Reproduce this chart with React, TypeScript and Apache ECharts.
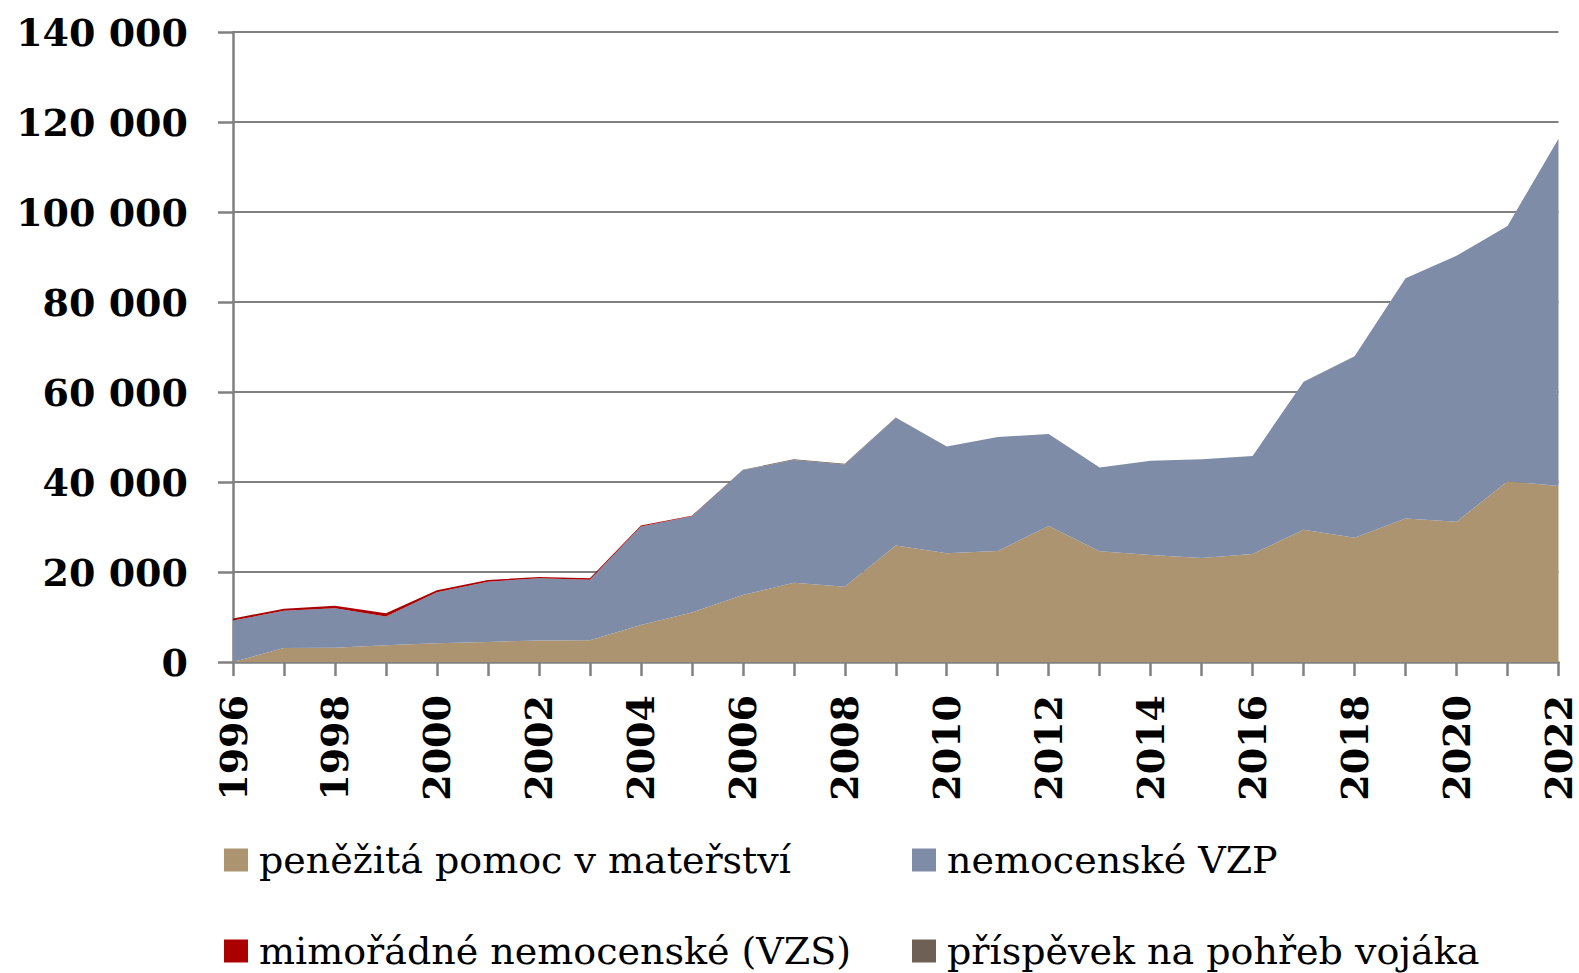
import React, { useEffect, useRef } from "react";
import * as echarts from "echarts";

const years = [
  "1996", "1997", "1998", "1999", "2000", "2001", "2002", "2003", "2004", "2005",
  "2006", "2007", "2008", "2009", "2010", "2011", "2012", "2013", "2014", "2015",
  "2016", "2017", "2018", "2019", "2020", "2021", "2022",
];

const materstvi = [
  0, 3100, 3150, 3700, 4150, 4450, 4800, 4850, 8250, 11000,
  14900, 17600, 16750, 25900, 24150, 24650, 30200, 24600, 23800, 23100,
  24000, 29400, 27600, 31900, 31150, 40150, 39100,
];

const nemocenskeVZP = [
  9200, 8300, 8800, 6400, 11350, 13400, 13800, 13450, 21850, 21400,
  27700, 27300, 27150, 28400, 23750, 25350, 20450, 18650, 20900, 21950,
  21800, 32900, 40350, 53400, 59150, 56750, 77200,
];

const mimoradneVZS = [
  450, 450, 550, 750, 450, 350, 300, 300, 250, 100,
  0, 0, 0, 0, 0, 0, 0, 0, 0, 0,
  0, 0, 0, 0, 0, 0, 0,
];

const pohrebVojaka = [
  0, 0, 0, 0, 0, 0, 0, 0, 0, 0,
  100, 150, 150, 60, 0, 0, 0, 0, 0, 0,
  0, 0, 0, 0, 0, 0, 0,
];

const seriesNames = [
  "peněžitá pomoc v mateřství",
  "nemocenské VZP",
  "mimořádné nemocenské (VZS)",
  "příspěvek na pohřeb vojáka",
];
const seriesColors = ["#AB946F", "#7F8CA8", "#AA0000", "#6F6056"];
const seriesData = [materstvi, nemocenskeVZP, mimoradneVZS, pohrebVojaka];

const FONT = "'DejaVu Serif', serif";

export default function App() {
  const ref = useRef<HTMLDivElement>(null);

  useEffect(() => {
    if (!ref.current) return;
    const chart = echarts.init(ref.current, undefined, { renderer: "svg" });
    const legendPos = [
      { left: 224, top: 841 },
      { left: 912, top: 841 },
      { left: 224, top: 932 },
      { left: 912, top: 932 },
    ];
    chart.setOption({
      animation: false,
      backgroundColor: "#ffffff",
      grid: { left: 233, right: 20.5, top: 32, bottom: 311, containLabel: false },
      legend: seriesNames.map((n, i) => ({
        data: [n],
        left: legendPos[i].left,
        top: legendPos[i].top,
        padding: 0,
        icon: "rect",
        itemWidth: 24,
        itemHeight: 23,
        selectedMode: false,
        textStyle: {
          fontFamily: FONT,
          fontSize: 38,
          color: "#000000",
          padding: [0, 0, 0, 6],
        },
      })),
      xAxis: {
        type: "category",
        data: years,
        boundaryGap: false,
        axisLine: { show: true, lineStyle: { color: "#808080", width: 2.5 } },
        axisTick: { show: true, interval: 0, length: 14, lineStyle: { color: "#808080", width: 2.5 } },
        axisLabel: {
          interval: 1,
          rotate: 90,
          margin: 33,
          fontFamily: FONT,
          fontWeight: "bold",
          fontSize: 38,
          color: "#000000",
        },
        splitLine: { show: false },
      },
      yAxis: {
        type: "value",
        min: 0,
        max: 140000,
        interval: 20000,
        axisLine: { show: true, lineStyle: { color: "#808080", width: 2.5 } },
        axisTick: { show: true, length: 15, lineStyle: { color: "#808080", width: 2.5 } },
        splitLine: { show: true, lineStyle: { color: "#808080", width: 2 } },
        axisLabel: {
          margin: 45,
          fontFamily: FONT,
          fontWeight: "bold",
          fontSize: 38,
          color: "#000000",
          formatter: (v: number) => String(v).replace(/\B(?=(\d{3})+(?!\d))/g, " "),
        },
      },
      series: seriesNames.map((n, i) => ({
        name: n,
        type: "line",
        stack: "total",
        data: seriesData[i],
        symbol: "none",
        color: seriesColors[i],
        itemStyle: { color: seriesColors[i] },
        lineStyle: { width: 0, color: seriesColors[i] },
        areaStyle: { color: seriesColors[i], opacity: 1 },
        emphasis: { disabled: true },
        z: 2,
      })),
    });
    return () => chart.dispose();
  }, []);

  return (
    <div
      ref={ref}
      style={{ position: "fixed", left: 0, top: 0, width: 1579, height: 973 }}
    />
  );
}
